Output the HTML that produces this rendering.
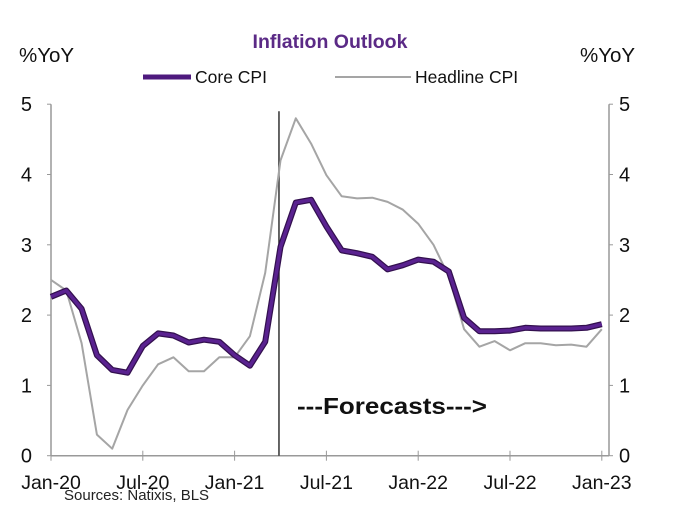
<!DOCTYPE html>
<html><head><meta charset="utf-8"><style>
body{margin:0;background:#fff;font-family:"Liberation Sans",Arial,sans-serif}
svg text{font-family:"Liberation Sans",Arial,sans-serif}
</style></head><body>
<svg id="chart" width="674" height="521">
<text x="330" y="48" text-anchor="middle" font-size="19.5" font-weight="bold" fill="#5b2a86">Inflation Outlook</text>
<text x="19" y="62" font-size="20.5" fill="#111">%YoY</text>
<text x="580" y="62" font-size="20.5" fill="#111">%YoY</text>
<g>
<line x1="143" y1="77" x2="191" y2="77" stroke="#4e1a7e" stroke-width="5"/>
<text x="195" y="83" font-size="17.5" fill="#111">Core CPI</text>
<line x1="335" y1="77" x2="411" y2="77" stroke="#a5a5a5" stroke-width="2"/>
<text x="415" y="83" font-size="17.5" fill="#111">Headline CPI</text>
</g>
<g id="axes"></g>
<g id="marks"></g>
<text x="297" y="414" font-size="23" font-weight="bold" fill="#111" textLength="190" lengthAdjust="spacingAndGlyphs">---Forecasts---&gt;</text>
<text x="64" y="500" font-size="15" fill="#222">Sources:  Natixis, BLS</text>
</svg>
<script>
const core=[2.26,2.35,2.09,1.43,1.22,1.18,1.56,1.74,1.71,1.61,1.65,1.62,1.43,1.28,1.62,2.97,3.6,3.64,3.26,2.92,2.88,2.83,2.65,2.71,2.79,2.76,2.62,1.96,1.77,1.77,1.78,1.82,1.81,1.81,1.81,1.82,1.87];
const headline=[2.5,2.35,1.6,0.3,0.1,0.65,1.0,1.3,1.4,1.2,1.2,1.4,1.4,1.7,2.6,4.2,4.8,4.44,3.99,3.69,3.66,3.67,3.61,3.5,3.3,3.0,2.55,1.8,1.55,1.63,1.5,1.6,1.6,1.57,1.58,1.55,1.8];
const xTickLabels=["Jan-20","Jul-20","Jan-21","Jul-21","Jan-22","Jul-22","Jan-23"];
const xTickMonths=[0,6,12,18,24,30,36];
const yTicks=[0,1,2,3,4,5];
const forecastStart=14.9;

const NS="http://www.w3.org/2000/svg";
const X=m=>51+m*15.3;
const Y=v=>455.7-v*70.3;
function mk(tag,attrs,parent,txt){const e=document.createElementNS(NS,tag);for(const k in attrs)e.setAttribute(k,attrs[k]);if(txt!==undefined)e.textContent=txt;parent.appendChild(e);return e;}
const ax=document.getElementById('axes'),mg=document.getElementById('marks');
let e;
e=mk('line',{x1:X(0),y1:Y(0),x2:X(0),y2:Y(5),stroke:'#999','stroke-width':1.5},ax);


e=mk('line',{x1:609,y1:Y(0),x2:609,y2:Y(5),stroke:'#999','stroke-width':1.5},ax);


e=mk('line',{x1:X(0),y1:Y(0),x2:609,y2:Y(0),stroke:'#999','stroke-width':1.5},ax);


yTicks.forEach(v=>{
 mk('line',{x1:X(0)-4,y1:Y(v),x2:X(0),y2:Y(v),stroke:'#999'},ax);
 mk('line',{x1:609,y1:Y(v),x2:613,y2:Y(v),stroke:'#999'},ax);
 e=mk('text',{x:32,y:Y(v)+7,'font-size':20,'text-anchor':'end',fill:'#111'},ax,String(v));
 
 
 e=mk('text',{x:619,y:Y(v)+7,'font-size':20,fill:'#111'},ax,String(v));
 
 
});
xTickMonths.forEach((m,i)=>{
 mk('line',{x1:X(m),y1:Y(0)-5,x2:X(m),y2:Y(0)+5,stroke:'#999'},ax);
 e=mk('text',{x:X(m),y:489,'font-size':19.5,'text-anchor':'middle',fill:'#111'},ax,xTickLabels[i]);
 
 
});
e=mk('line',{x1:X(forecastStart),y1:Y(4.8)-7,x2:X(forecastStart),y2:Y(0),stroke:'#333','stroke-width':1.5},mg);


const pts=a=>a.map((v,i)=>X(i).toFixed(1)+','+Y(v).toFixed(1)).join(' ');
e=mk('polyline',{points:pts(headline),fill:'none',stroke:'#a5a5a5','stroke-width':2,'stroke-linejoin':'round'},mg);


e=mk('polyline',{points:pts(core),fill:'none',stroke:'#33104f','stroke-width':6,'stroke-linejoin':'round'},mg);


e=mk('polyline',{points:pts(core),fill:'none',stroke:'#5a2290','stroke-width':3.5,'stroke-linejoin':'round'},mg);


</script>
</body></html>
